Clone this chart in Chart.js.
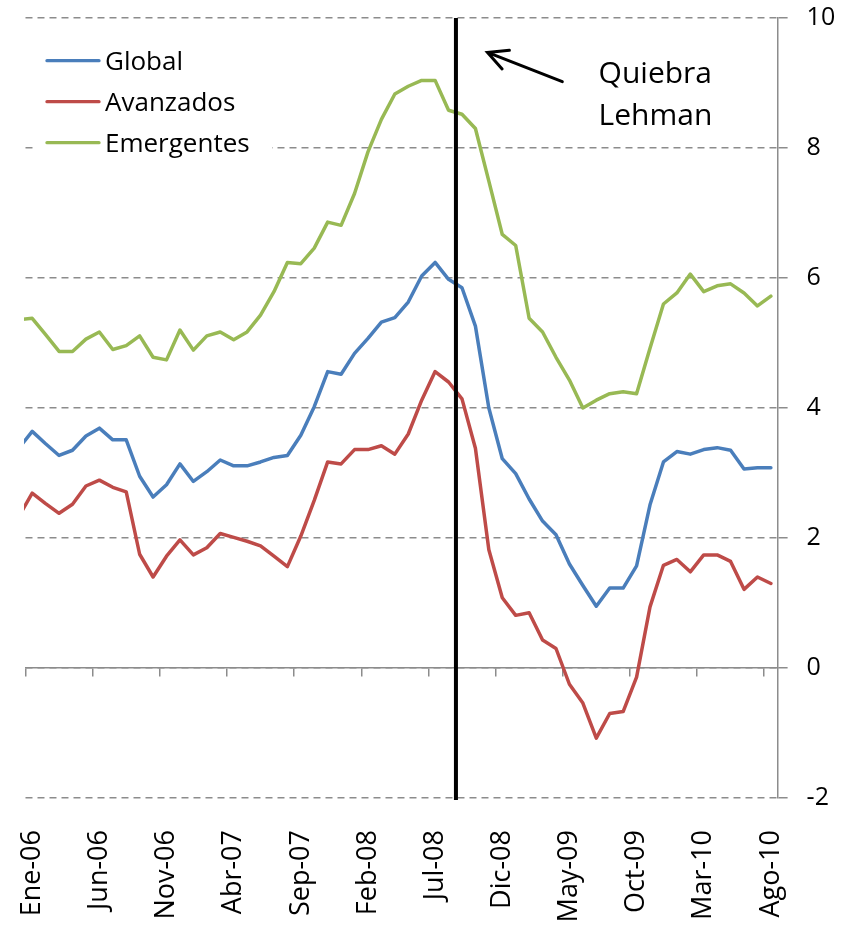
<!DOCTYPE html>
<html lang="es">
<head>
<meta charset="utf-8">
<title>Global / Avanzados / Emergentes</title>
<script src="https://cdn.jsdelivr.net/npm/chart.js@4.4.1/dist/chart.umd.min.js"></script>
<style>
  html, body { margin: 0; padding: 0; background: #fff; }
  #wrap { width: 854px; height: 930px; }
</style>
</head>
<body>
<div id="wrap"><canvas id="chart" width="854" height="930"></canvas></div>
<script>
"use strict";

// ── Data ─────────────────────────────────────────────────────────────
// Monthly, Dic-05 .. Ago-10 (Dic-05 only feeds the clipped first segment)
const mesesAbr = ["Ene","Feb","Mar","Abr","May","Jun","Jul","Ago","Sep","Oct","Nov","Dic"];
const months = ["Dic-05"];
for (let yr = 6; yr <= 10; yr++) {
  mesesAbr.forEach(m => months.push(m + "-" + String(yr).padStart(2, "0")));
}
months.length = months.indexOf("Ago-10") + 1;

const tickLabels = ["Ene-06","Jun-06","Nov-06","Abr-07","Sep-07","Feb-08",
                    "Jul-08","Dic-08","May-09","Oct-09","Mar-10","Ago-10"];

const global = [
  3.38, 3.64, 3.45, 3.27, 3.35, 3.57, 3.69, 3.51, 3.51, 2.95, 2.63, 2.82,
  3.14, 2.87, 3.02, 3.20, 3.11, 3.11, 3.17, 3.24, 3.27, 3.58, 4.02, 4.56,
  4.52, 4.84, 5.07, 5.32, 5.39, 5.63, 6.03, 6.24, 5.98, 5.85, 5.26, 4.00,
  3.22, 2.99, 2.60, 2.26, 2.05, 1.60, 1.27, 0.95, 1.23, 1.23, 1.57, 2.51,
  3.17, 3.33, 3.29, 3.36, 3.39, 3.35, 3.06, 3.08, 3.08
];
const avanzados = [
  2.33, 2.69, 2.53, 2.38, 2.52, 2.80, 2.89, 2.78, 2.71, 1.75, 1.40, 1.72,
  1.97, 1.74, 1.85, 2.07, 2.01, 1.95, 1.88, 1.72, 1.56, 2.03, 2.58, 3.17,
  3.14, 3.36, 3.36, 3.42, 3.29, 3.60, 4.12, 4.56, 4.40, 4.14, 3.38, 1.82,
  1.08, 0.81, 0.85, 0.43, 0.30, -0.25, -0.54, -1.08, -0.70, -0.67, -0.14, 0.94,
  1.58, 1.67, 1.48, 1.74, 1.74, 1.64, 1.21, 1.40, 1.30
];
const emergentes = [
  5.36, 5.38, 5.13, 4.87, 4.87, 5.06, 5.17, 4.90, 4.96, 5.11, 4.78, 4.74,
  5.20, 4.89, 5.11, 5.17, 5.05, 5.17, 5.43, 5.79, 6.24, 6.22, 6.46, 6.86,
  6.81, 7.30, 7.94, 8.44, 8.83, 8.95, 9.04, 9.04, 8.58, 8.52, 8.30, 7.49,
  6.67, 6.50, 5.38, 5.17, 4.78, 4.43, 4.00, 4.12, 4.22, 4.25, 4.22, 4.92,
  5.60, 5.77, 6.06, 5.79, 5.88, 5.91, 5.77, 5.57, 5.72
];

const lehmanMonth = 32.55;   // between Ago-08 and Sep-08
const yMin = -2, yMax = 10;

// ── Look ─────────────────────────────────────────────────────────────
const FONT = "'Open Sans', sans-serif";
const GRID = "#8c8c8c";
const pts = arr => arr.map((v, i) => ({ x: i, y: v }));

const series = (label, data, color) => ({
  label,
  data: pts(data),
  borderColor: color,
  borderWidth: 3.5,
  pointRadius: 0,
  tension: 0,
  borderJoinStyle: "round",
  borderCapStyle: "round",
  clip: 1.5,
});

// legend drawn inside the plot, top-left, on a white box over the grid
const insetLegend = {
  id: "insetLegend",
  afterDraw(chart, args, o) {
    const ctx = chart.ctx;
    ctx.save();
    ctx.fillStyle = "#fff";
    ctx.fillRect(o.box[0], o.box[1], o.box[2], o.box[3]);
    ctx.font = `${o.size}px ${FONT}`;
    ctx.textBaseline = "alphabetic";
    chart.data.datasets.filter(d => d.label).forEach((ds, i) => {
      const y = o.top + i * o.rowGap;
      ctx.strokeStyle = ds.borderColor;
      ctx.lineWidth = 3.3;
      ctx.lineCap = "round";
      ctx.beginPath();
      ctx.moveTo(o.left, y);
      ctx.lineTo(o.left + o.lineLen, y);
      ctx.stroke();
      ctx.fillStyle = "#000";
      ctx.fillText(ds.label, o.left + o.lineLen + o.gap, y + o.size * 0.36);
    });
    ctx.restore();
  }
};

// "Quiebra Lehman" note with arrow, anchored on the scales
const lehmanNote = {
  id: "lehmanNote",
  afterDatasetsDraw(chart, args, o) {
    const { x, y } = chart.scales;
    const ctx = chart.ctx;
    const tx = x.getPixelForValue(o.tip[0]),  ty = y.getPixelForValue(o.tip[1]);
    const sx = x.getPixelForValue(o.tail[0]), sy = y.getPixelForValue(o.tail[1]);
    const ang = Math.atan2(sy - ty, sx - tx);
    const head = 22, spread = 27 * Math.PI / 180;

    ctx.save();
    ctx.strokeStyle = "#000";
    ctx.lineWidth = 3;
    ctx.lineCap = "round";
    ctx.beginPath();
    ctx.moveTo(sx, sy);
    ctx.lineTo(tx, ty);
    ctx.moveTo(tx + head * Math.cos(ang - spread), ty + head * Math.sin(ang - spread));
    ctx.lineTo(tx, ty);
    ctx.lineTo(tx + head * Math.cos(ang + spread), ty + head * Math.sin(ang + spread));
    ctx.stroke();

    ctx.fillStyle = "#000";
    ctx.font = `30px ${FONT}`;
    ctx.textBaseline = "alphabetic";
    const lx = x.getPixelForValue(o.textAt[0]);
    o.lines.forEach((t, i) => {
      ctx.fillText(t, lx, y.getPixelForValue(o.textAt[1]) + i * 42);
    });
    ctx.restore();
  }
};

new Chart(document.getElementById("chart"), {
  type: "line",
  data: {
    datasets: [
      {
        label: "",
        data: [{ x: lehmanMonth, y: yMax }, { x: lehmanMonth, y: -2.03 }],
        borderColor: "#000",
        borderWidth: 4,
        pointRadius: 0,
        borderCapStyle: "butt",
        clip: false,
        order: 0,
      },
      { ...series("Global",     global,     "#4A7EBB"), order: 3 },
      { ...series("Avanzados",  avanzados,  "#BE4B48"), order: 2 },
      { ...series("Emergentes", emergentes, "#98B954"), order: 1 },
    ],
  },
  options: {
    responsive: false,
    animation: false,
    layout: { padding: { left: 23.27, top: 18, right: 0, bottom: 0 } },
    plugins: {
      legend: { display: false },
      tooltip: { enabled: false },
      insetLegend: {
        left: 47, top: 60.7, rowGap: 41, lineLen: 52, gap: 6, size: 26,
        box: [34, 38, 238, 124],
      },
      lehmanNote: {
        tip: [34.9, 9.47],
        tail: [40.47, 9.02],
        textAt: [43.17, 9.0],
        lines: ["Quiebra", "Lehman"],
      },
    },
    scales: {
      x: {
        type: "linear",
        position: "bottom",
        min: 0.5,
        max: months.length - 0.5,
        grid: { display: false, drawTicks: false },
        border: { display: false },
        afterBuildTicks: s => { s.ticks = tickLabels.map(l => ({ value: months.indexOf(l) })); },
        afterFit: s => { s.height = 132; s.paddingTop = 0; },
        ticks: {
          autoSkip: false,
          minRotation: 90,
          maxRotation: 90,
          padding: 32,
          color: "#000",
          font: { family: FONT, size: 27 },
          callback: v => months[v],
        },
      },
      x2: {
        type: "linear",
        axis: "x",
        position: { y: 0 },
        min: 0.5,
        max: months.length - 0.5,
        ticks: { display: false },
        grid: { drawOnChartArea: false, drawTicks: true, tickLength: 8, color: GRID, lineWidth: 1.5 },
        border: { color: GRID, width: 1.5 },
        afterBuildTicks: s => { s.ticks = tickLabels.map(l => ({ value: months.indexOf(l) - 0.5 })); },
        afterFit: s => { s.paddingTop = 0; s.paddingBottom = 0; },
      },
      y: {
        position: "right",
        min: yMin,
        max: yMax,
        afterFit: s => { s.width = 854 - 777.6; s.paddingTop = 0; s.paddingBottom = 0; },
        ticks: {
          stepSize: 2,
          padding: 19,
          crossAlign: "near",
          color: "#000",
          font: { family: FONT, size: 25 },
        },
        grid: { color: GRID, lineWidth: 1.5, tickLength: 10, tickColor: GRID },
        border: { display: true, color: GRID, width: 1.5, dash: [7, 5] },
      },
    },
  },
  plugins: [insetLegend, lehmanNote],
});
</script>
</body>
</html>
